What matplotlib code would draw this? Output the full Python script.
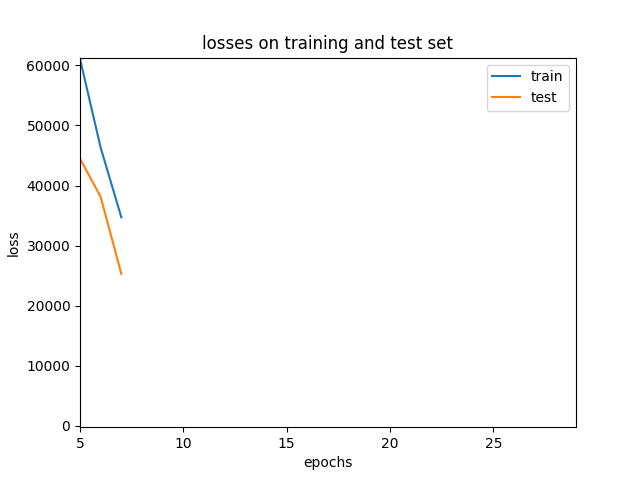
import matplotlib
matplotlib.use("Agg")
import matplotlib.pyplot as plt

# valores
epochs = [5, 6, 7]
train_loss = [61100, 46300, 34700]
test_loss = [44500, 38100, 25300]

plt.figure(figsize=(6.4, 4.8), dpi=100)
plt.plot(epochs, train_loss, label='train')
plt.plot(epochs, test_loss, label='test')
plt.xlim(5, 29)
plt.ylim(-250, 61300)
plt.xlabel("epochs")
plt.ylabel("loss")
plt.title("losses on training and test set")
plt.legend()
plt.savefig("out.png")
